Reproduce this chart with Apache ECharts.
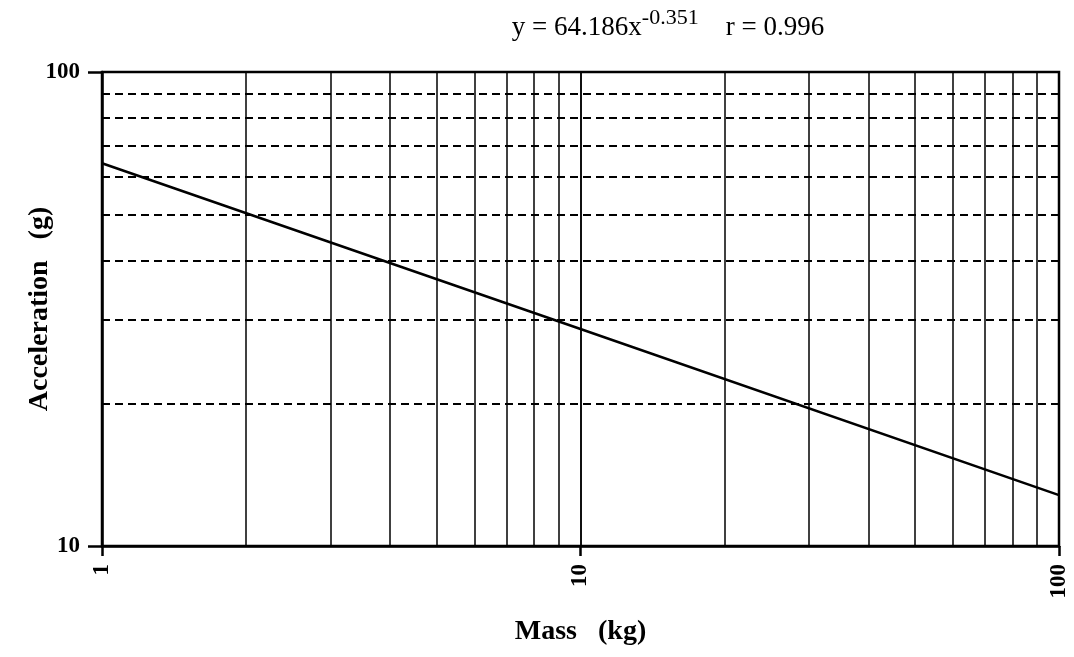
<!DOCTYPE html>
<html><head><meta charset="utf-8">
<script src="https://cdn.jsdelivr.net/npm/echarts@6/dist/echarts.min.js"></script>
<style>html,body{margin:0;padding:0;background:#fff}#c{width:1074px;height:657px}</style>
</head><body><div id="c"></div>
<script>
var massKg = [1, 10, 100];
var accelG = [64.2, 28.7, 12.8];
var xMinorGrid = [2, 3, 4, 5, 6, 7, 8, 9, 10, 20, 30, 40, 50, 60, 70, 80, 90];
var yMinorGrid = [20, 30, 40, 50, 60, 70, 80, 90];
var xTickLabels = ['1', '10', '100'];
var yTickLabels = ['10', '100'];

var serif = '"Liberation Serif", "DejaVu Serif", serif';
var chart = echarts.init(document.getElementById('c'));
chart.setOption({
  animation: false,
  backgroundColor: '#fff',
  title: {
    text: '{a|y = 64.186x}{s|-0.351}{a|    r = 0.996}',
    left: 663, top: 2, textAlign: 'center',
    textStyle: {
      fontWeight: 'normal',
      rich: {
        a: {fontFamily: serif, fontSize: 27, fontWeight: 'normal', color: '#000', verticalAlign: 'bottom', lineHeight: 34},
        s: {fontFamily: serif, fontSize: 22, fontWeight: 'normal', color: '#000', verticalAlign: 'top', lineHeight: 34, padding: [0, 0, 16, 0]}
      }
    }
  },
  grid: {left: 102, right: 15, top: 72, bottom: 111, outerBoundsMode: 'none', containLabel: false,
    show: true, borderColor: '#000', borderWidth: 2.5, backgroundColor: 'transparent'},
  xAxis: {
    type: 'log', logBase: 10, min: 1, max: 100,
    name: 'Mass   (kg)', nameLocation: 'middle', nameGap: 72, nameMoveOverlap: false,
    nameTextStyle: {fontFamily: serif, fontSize: 28, fontWeight: 'bold', color: '#000'},
    axisLine: {lineStyle: {color: '#000', width: 2.5}},
    axisTick: {show: true, length: 10, lineStyle: {color: '#000', width: 2.5}},
    axisLabel: {rotate: 90, margin: 18, fontFamily: serif, fontSize: 23, fontWeight: 'bold', color: '#000',
      formatter: function (v) { var i = Math.round(Math.log10(v)); return xTickLabels[i]; }},
    splitLine: {show: true, lineStyle: {color: '#000', width: 1.5}}
  },
  yAxis: {
    type: 'log', logBase: 10, min: 10, max: 100,
    name: 'Acceleration   (g)', nameLocation: 'middle', nameGap: 48, nameRotate: 90, nameMoveOverlap: false,
    nameTextStyle: {fontFamily: serif, fontSize: 28, fontWeight: 'bold', color: '#000'},
    axisLine: {lineStyle: {color: '#000', width: 2.5}},
    axisTick: {show: true, length: 14, lineStyle: {color: '#000', width: 2.5}},
    axisLabel: {margin: 22, fontFamily: serif, fontSize: 23, fontWeight: 'bold', color: '#000',
      formatter: function (v) { var i = Math.round(Math.log10(v)) - 1; return yTickLabels[i]; }},
    splitLine: {show: false}
  },
  series: [{
    type: 'line',
    data: massKg.map(function (m, i) { return [m, accelG[i]]; }),
    showSymbol: false,
    lineStyle: {color: '#000', width: 2.5},
    z: 5,
    markLine: {
      silent: true, symbol: ['none', 'none'], label: {show: false},
      data: xMinorGrid.map(function (v) { return {xAxis: v, lineStyle: {color: '#000', width: 1.5, type: 'solid'}}; })
        .concat(yMinorGrid.map(function (v) { return {yAxis: v, lineStyle: {color: '#000', width: 2, type: [8, 5]}}; }))
    }
  }]
});
</script></body></html>
